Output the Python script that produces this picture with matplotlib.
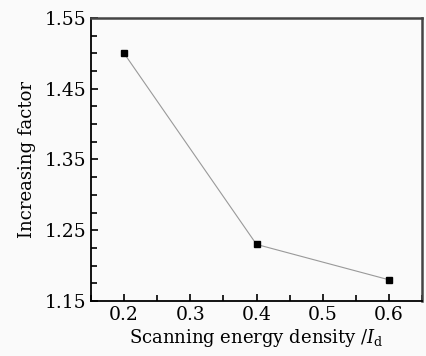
import matplotlib
matplotlib.use("Agg")
import matplotlib.pyplot as plt
from matplotlib.ticker import MultipleLocator

energy_density = [0.2, 0.4, 0.6]
increasing_factor = [1.50, 1.23, 1.18]
y_ticks = [1.15, 1.25, 1.35, 1.45, 1.55]

plt.rcParams["font.family"] = "DejaVu Serif"
plt.rcParams["mathtext.fontset"] = "dejavuserif"

fig = plt.figure(figsize=(4.26, 3.56), dpi=100, facecolor="#fafafa")
ax = fig.add_axes([91 / 426, 55 / 356, 331 / 426, 283 / 356])
ax.set_facecolor("#fafafa")

ax.plot(energy_density, increasing_factor, color="#999999", linewidth=0.8,
        marker="s", markersize=4.5, markerfacecolor="black",
        markeredgecolor="black")

ax.set_xlim(0.15, 0.65)
ax.set_ylim(1.15, 1.55)
ax.xaxis.set_major_locator(MultipleLocator(0.1))
ax.xaxis.set_minor_locator(MultipleLocator(0.05))
ax.yaxis.set_minor_locator(MultipleLocator(0.025))
ax.set_yticks(y_ticks)
ax.set_yticklabels([f"{v:.2f}" for v in y_ticks])
ax.tick_params(which="both", direction="in", top=False, right=False,
               labelsize=13.5, width=1.2)
ax.tick_params(which="major", length=5)
ax.tick_params(which="minor", length=4)

for side in ("left", "bottom"):
    ax.spines[side].set_color("black")
    ax.spines[side].set_linewidth(1.3)
for side in ("top", "right"):
    ax.spines[side].set_color("#444444")
    ax.spines[side].set_linewidth(1.8)

ax.set_xlabel(r"Scanning energy density /$I_\mathrm{d}$", fontsize=13, labelpad=2)
ax.set_ylabel("Increasing factor", fontsize=13, labelpad=6)

fig.savefig("out.png", dpi=100, facecolor=fig.get_facecolor())
